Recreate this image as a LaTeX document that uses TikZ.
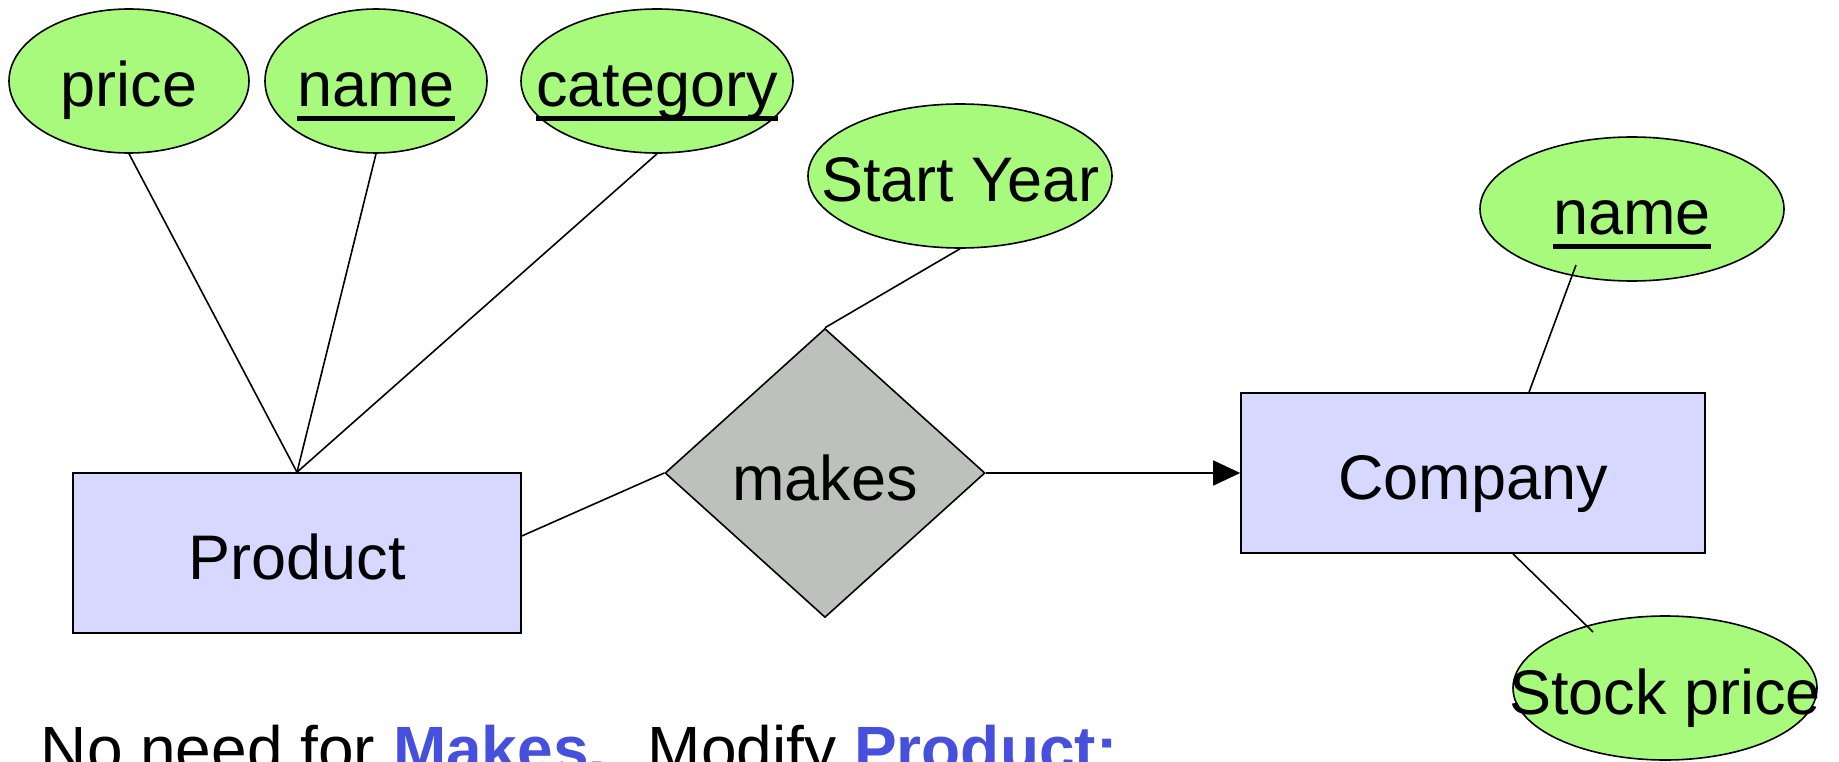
\documentclass[tikz,border=0pt]{standalone}
\usepackage{fontspec}
\setmainfont{Liberation Sans}
\usetikzlibrary{shapes.geometric,arrows.meta,positioning,calc}

\definecolor{attrgreen}{RGB}{168,250,125}
\definecolor{entityblue}{RGB}{214,216,255}
\definecolor{relgray}{RGB}{190,192,190}
\definecolor{noteblue}{RGB}{70,80,220}

\newcommand{\attrtext}[1]{\makebox[0pt]{#1}}
\newcommand{\keytext}[1]{\makebox[0pt]{\setbox0\hbox{#1}\rlap{\rule[-0.22em]{\wd0}{0.085em}}\box0}}

\begin{document}
\begin{tikzpicture}[x=1pt,y=-1pt,line width=1.6pt,
		font=\fontsize{63}{70}\selectfont,
		attr/.style={ellipse,draw,fill=attrgreen,minimum height=144pt,inner sep=0pt,text height=52pt,text depth=0pt},
		entity/.style={rectangle,draw,fill=entityblue,minimum height=160pt,inner sep=0pt,text height=52pt,text depth=0pt},
		rel/.style={diamond,draw,fill=relgray,minimum width=320pt,minimum height=289pt,inner sep=0pt,text height=54pt,text depth=0pt}]
			\useasboundingbox (0,0) rectangle (1839,762);
			\node[entity,minimum width=448pt] (product) at (297,553) {Product};
			\node[rel] (makes) at (825,473) {makes};
			\node[entity,minimum width=464pt] (company) at (1473,473) {Company};
			\node[attr,minimum width=240pt] (price) at (129,81) {\attrtext{price}};
			\node[attr,minimum width=222pt] (name) at (376,81) {\keytext{name}};
			\node[attr,minimum width=272pt] (category) at (657,81) {\keytext{category}};
			\node[attr,minimum width=304pt] (startyear) at (960,176) {\attrtext{Start Year}};
			\node[attr,minimum width=304pt] (cname) at (1632,209) {\keytext{name}};
			\node[attr,minimum width=304pt] (stock) at (1665,688) {\attrtext{Stock price}};
			\node[anchor=base west,inner sep=0pt,font=\fontsize{64}{70}\selectfont] (note) at (40,771)
				{No need for \textcolor{noteblue}{\textbf{Makes.}}~ Modify \textcolor{noteblue}{\textbf{Product:}}};
			\path[draw]
			(price.south) edge (product.north)
			(name.south) edge (product.north)
			(category.south) edge (product.north)
			([yshift=17pt]product.east) edge (makes.west)
			(makes.north) edge (startyear.south)
			(makes.east) edge [-{Triangle[length=27pt,width=25pt]}] (company.west)
			($(company.north)+(56,0)$) edge ($(cname.center)+(-56,56)$)
			($(company.south)+(40,0)$) edge ($(stock.center)+(-72,-56)$);
		\end{tikzpicture}
\end{document}
